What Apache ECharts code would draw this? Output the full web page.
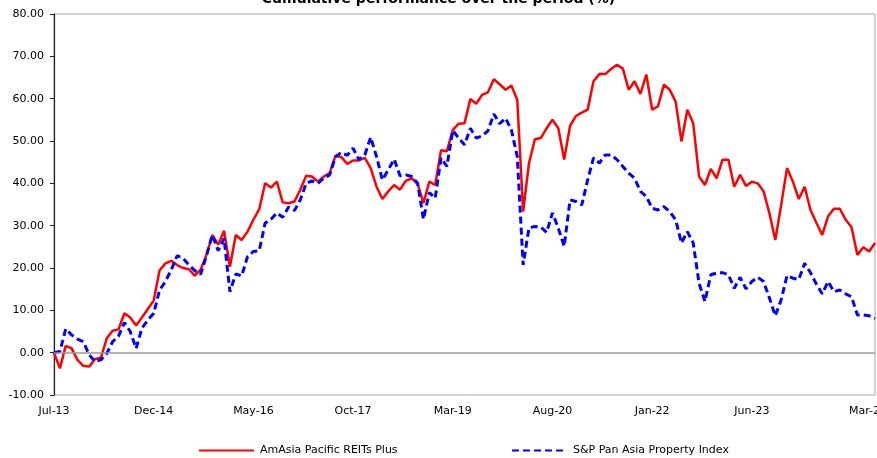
<!DOCTYPE html>
<html>
<head>
<meta charset="utf-8">
<script src="https://cdn.jsdelivr.net/npm/echarts@6/dist/echarts.min.js"></script>
<style>
html,body{margin:0;padding:0;background:#fff;}
#chart{width:877px;height:458px;}
</style>
</head>
<body>
<div id="chart"></div>
<script>
// Monthly categories Jul-13 .. Mar-25
var monthNames = ["Jan","Feb","Mar","Apr","May","Jun","Jul","Aug","Sep","Oct","Nov","Dec"];
var categories = [];
(function(){
  var m = 6, y = 13;
  while (true) {
    categories.push(monthNames[m] + "-" + y);
    if (m === 2 && y === 25) break;
    m++; if (m > 11) { m = 0; y++; }
  }
})();

var tickLabels = ["Jul-13","Dec-14","May-16","Oct-17","Mar-19","Aug-20","Jan-22","Jun-23","Mar-25"];

var seriesNames = ["AmAsia Pacific REITs Plus", "S&P Pan Asia Property Index"];

var fundValues = [
  0, -3.7, 1.6, 1.0, -1.7, -3.1, -3.3, -1.5, -1.2, 3.4,
  5.2, 5.5, 9.3, 8.3, 6.4, 8.3, 10.3, 12.3, 19.4, 21.1,
  21.7, 20.7, 20.0, 19.7, 18.2, 19.6, 23.1, 27.8, 25.5, 28.8,
  20.3, 27.8, 26.6, 28.6, 31.4, 33.9, 40.0, 39.0, 40.4, 35.5,
  35.3, 35.7, 38.5, 41.8, 41.6, 40.4, 41.6, 42.4, 46.5, 46.2,
  44.6, 45.4, 45.4, 46.0, 43.6, 39.2, 36.3, 38.1, 39.6, 38.5,
  40.6, 41.2, 39.9, 35.3, 40.4, 39.6, 47.8, 47.6, 52.6, 54.1,
  54.2, 59.9, 58.8, 60.9, 61.5, 64.6, 63.4, 62.1, 63.1, 59.7,
  33.3, 44.8, 50.4, 50.7, 53.0, 55.0, 53.0, 45.6, 53.6, 55.9,
  56.7, 57.4, 64.1, 65.8, 65.8, 67.0, 68.0, 67.1, 62.1, 64.1,
  61.1, 65.7, 57.4, 58.2, 63.3, 62.1, 59.3, 49.9, 57.4, 54.2,
  41.6, 39.6, 43.4, 41.2, 45.6, 45.6, 39.2, 42.0, 39.4, 40.4,
  40.0, 38.1, 32.9, 26.6, 34.9, 43.6, 40.4, 36.3, 39.2, 33.7,
  30.7, 27.8, 32.2, 34.0, 34.0, 31.4, 29.6, 23.1, 24.9, 23.9,
  25.9
];

var indexValues = [
  0, 0.3, 5.6, 4.2, 3.2, 2.6, -0.5, -2.1, -1.7, -0.2,
  2.6, 3.9, 7.1, 5.0, 1.0, 5.8, 7.7, 9.3, 14.8, 16.8,
  19.6, 22.9, 22.3, 20.7, 19.4, 18.5, 22.9, 27.8, 24.1, 27.0,
  14.4, 18.6, 18.1, 22.7, 23.9, 24.1, 30.6, 31.5, 33.0, 32.0,
  34.4, 33.6, 36.1, 40.0, 40.6, 40.0, 41.2, 42.0, 46.3, 47.3,
  46.6, 48.3, 45.6, 46.7, 50.9, 46.3, 40.8, 43.2, 45.7, 41.8,
  42.0, 41.6, 40.0, 31.5, 37.8, 36.5, 46.0, 44.0, 52.5, 50.7,
  49.1, 53.0, 50.7, 51.2, 52.4, 56.4, 54.1, 55.4, 52.6, 46.3,
  20.7, 29.5, 29.8, 29.7, 28.4, 33.0, 29.4, 25.1, 36.1, 35.7,
  34.9, 40.8, 46.0, 44.8, 46.7, 46.7, 45.6, 44.0, 42.4, 41.2,
  38.1, 36.9, 34.1, 33.7, 34.5, 33.3, 31.4, 25.9, 28.6, 25.9,
  16.4, 12.1, 18.4, 18.8, 18.9, 18.4, 15.2, 17.8, 15.1, 16.8,
  17.8, 16.8, 12.9, 8.7, 12.5, 18.2, 17.6, 17.3, 21.1, 18.9,
  16.2, 13.9, 16.8, 14.4, 14.8, 13.9, 13.2, 8.9, 8.9, 8.7,
  8.1
];

var chart = echarts.init(document.getElementById('chart'), null, {renderer: 'canvas'});
var font = '"DejaVu Sans", sans-serif';
var lastLabel = tickLabels[tickLabels.length - 1];

function legendFor(name, left) {
  return {
    data: [name],
    left: left,
    top: 440,
    itemWidth: 55,
    itemHeight: 12,
    itemStyle: {opacity: 0},
    textStyle: {fontFamily: font, fontSize: 11, color: '#000', padding: [0, 0, 0, 1]}
  };
}

chart.setOption({
  animation: false,
  backgroundColor: '#ffffff',
  textStyle: {fontFamily: font},
  title: {
    text: 'Cumulative performance over the period (%)',
    left: 'center',
    top: -13,
    textStyle: {fontFamily: font, fontSize: 14, fontWeight: 'bold', color: '#000'}
  },
  legend: [legendFor(seriesNames[0], 193), legendFor(seriesNames[1], 506)],
  grid: {
    left: 54, right: 2, top: 14, bottom: 63,
    containLabel: false,
    outerBoundsMode: 'none',
    show: true, borderColor: '#a6a6a6', borderWidth: 1
  },
  xAxis: {
    type: 'category',
    data: categories,
    boundaryGap: false,
    axisLine: {show: false},
    axisTick: {show: false},
    splitLine: {show: false},
    axisLabel: {
      interval: function (idx, val) { return tickLabels.indexOf(val) >= 0; },
      formatter: function (val) { return val === lastLabel ? '{last|' + val + '}' : val; },
      rich: {last: {fontFamily: font, fontSize: 11, color: '#000', padding: [0, 14, 0, 0]}},
      fontFamily: font, fontSize: 11, color: '#000', margin: 11,
      showMaxLabel: true
    }
  },
  yAxis: {
    type: 'value',
    min: -10, max: 80, interval: 10,
    axisLine: {show: true, lineStyle: {color: '#202020', width: 1.2}},
    axisTick: {show: true, length: 4, lineStyle: {color: '#202020'}},
    splitLine: {show: false},
    axisLabel: {
      formatter: function (v) { return v.toFixed(2); },
      fontFamily: font, fontSize: 11, color: '#000', margin: 10
    }
  },
  series: [
    {
      name: 'zero', type: 'line', data: [], z: 1, silent: true,
      markLine: {
        silent: true, symbol: 'none', label: {show: false},
        lineStyle: {color: '#999999', width: 1.5, type: 'solid'},
        data: [{yAxis: 0}]
      }
    },
    {
      name: seriesNames[0], type: 'line', data: fundValues,
      symbol: 'none', z: 3,
      lineStyle: {color: '#ff0000', width: 2.5},
      itemStyle: {color: '#ff0000'}
    },
    {
      name: seriesNames[1], type: 'line', data: indexValues,
      symbol: 'none', z: 4,
      lineStyle: {color: '#0000ff', width: 3, type: [7, 4]},
      itemStyle: {color: '#0000ff'}
    }
  ]
});
</script>
</body>
</html>
